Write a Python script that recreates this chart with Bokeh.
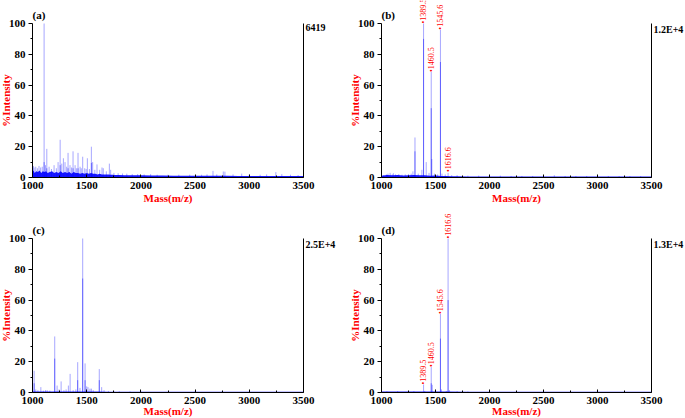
from math import pi
from bokeh.plotting import figure
from bokeh.layouts import column, row
from bokeh.models import Label, LinearAxis, FixedTicker, Range1d
from bokeh.embed import file_html
from bokeh.resources import INLINE

# ---------------- data ----------------
x_ticks = [1000, 1500, 2000, 2500, 3000, 3500]
x_tick_labels = ["1000", "1500", "2000", "2500", "3000", "3500"]
x_minor = [1250, 1750, 2250, 2750, 3250]
y_ticks = [0, 20, 40, 60, 80, 100]
y_tick_labels = ["0", "20", "40", "60", "80", "100"]
y_minor = [10, 30, 50, 70, 90]
x_title = "Mass(m/z)"
y_title = "%Intensity"

# panel (a)
a_tag = "(a)"
a_scale = "6419"
a_mz = [1008, 1015, 1030, 1045, 1060, 1075, 1090, 1107, 1120, 1132, 1153, 1175, 1199, 1220,
        1236, 1255, 1270, 1285, 1300, 1315, 1328, 1346, 1360, 1374, 1393, 1405, 1420, 1439,
        1450, 1463, 1482, 1495, 1506, 1525, 1543, 1555, 1575, 1595, 1620, 1641, 1653, 1681,
        1709, 1721, 1751, 1790, 1830, 1870, 1920, 1970, 2030, 2090, 2150, 2250, 2350, 2450,
        2560, 2610, 2665, 2700, 2760, 2775, 2850, 2930, 3000, 3100, 3160, 3245, 3300, 3380, 3450]
a_int = [7.5, 6.5, 7.0, 6.0, 7.5, 6.5, 7.0, 100, 8.0, 18.6, 7.0, 5.5, 8.0, 6.0,
         10.0, 24.5, 9.0, 12.5, 10.0, 7.0, 16.0, 8.0, 6.5, 17.0, 8.0, 6.0, 16.0, 7.0,
         6.0, 13.5, 6.0, 5.5, 12.5, 5.5, 20.0, 10.0, 5.0, 8.5, 5.0, 6.5, 6.0, 4.0,
         9.0, 5.0, 3.0, 2.8, 2.6, 2.5, 2.2, 2.2, 2.0, 2.2, 1.8, 1.8, 1.8, 1.8,
         1.8, 2.0, 4.3, 2.0, 3.9, 3.8, 2.0, 2.5, 2.0, 1.8, 2.0, 3.5, 2.2, 1.8, 1.6]
a_core_mz = [1107, 1132, 1255, 1328, 1374, 1420, 1543]
a_core = [10, 6, 8, 6, 6, 6, 9.5]
a_noise_mz = [1000, 1010, 1020, 1035, 1050, 1065, 1080, 1095, 1110, 1125, 1140, 1160, 1180,
              1200, 1220, 1240, 1260, 1280, 1300, 1320, 1340, 1360, 1380, 1400, 1420, 1440,
              1460, 1480, 1500, 1520, 1540, 1560, 1580, 1600, 1620, 1640, 1660, 1680, 1700,
              1720, 1740, 1760, 1800, 1850, 1900, 1950, 2000, 2100, 2200, 2300, 2400, 2500,
              2600, 2700, 2800, 2900, 3000, 3100, 3200, 3300, 3400, 3500]
a_noise = [3.5, 4.5, 3.0, 4.0, 3.5, 4.5, 3.0, 4.0, 3.5, 4.0, 3.0, 3.5, 4.0,
           3.0, 3.5, 3.0, 4.0, 3.0, 3.5, 3.0, 3.5, 2.5, 3.5, 3.0, 3.0, 2.5,
           3.0, 2.5, 3.0, 2.5, 3.0, 2.5, 2.5, 2.0, 2.5, 2.0, 2.0, 2.0, 2.0,
           1.8, 1.8, 1.6, 1.6, 1.5, 1.5, 1.4, 1.4, 1.3, 1.3, 1.2, 1.2, 1.2,
           1.1, 1.1, 1.1, 1.0, 1.0, 1.0, 1.0, 1.0, 0.9, 0.9]
a_lab_mz = []
a_lab_y = []
a_lab_text = []

# panel (b)
b_tag = "(b)"
b_scale = "1.2E+4"
b_mz = [1020, 1045, 1060, 1080, 1100, 1110, 1130, 1160, 1190, 1220, 1250, 1275, 1291, 1310,
        1340, 1374, 1389.5, 1414, 1440, 1460.5, 1466, 1490, 1520, 1545.6, 1560, 1590, 1616.6,
        1650, 1700, 1800, 1900, 2000, 2100, 2200, 2300, 2400, 2500, 2600, 2700, 2800, 2900,
        3000, 3100, 3200, 3300, 3400]
b_int = [1.5, 2.0, 2.5, 3.0, 2.0, 2.8, 2.0, 2.2, 1.8, 2.0, 2.2, 2.5, 4.0, 26.0,
         2.5, 5.0, 100, 10.0, 3.0, 68.5, 12.0, 2.5, 2.0, 96.0, 2.5, 2.0, 3.0,
         1.5, 1.5, 1.2, 1.2, 1.2, 1.2, 1.0, 1.0, 1.0, 1.0, 1.5, 1.0, 1.0, 1.0,
         1.0, 1.0, 0.9, 0.9, 0.9]
b_core_mz = [1310, 1389.5, 1460.5, 1545.6]
b_core = [17, 90, 45, 75]
b_noise_mz = [1000, 1050, 1100, 1150, 1200, 1250, 1300, 1350, 1400, 1450, 1500, 1550, 1600,
              1650, 1700, 1800, 2000, 2500, 3000, 3500]
b_noise = [1.2, 1.6, 1.4, 1.6, 1.3, 1.5, 1.6, 1.4, 1.5, 1.2, 1.3, 1.0, 0.9,
           0.8, 0.8, 0.7, 0.7, 0.6, 0.6, 0.6]
b_lab_mz = [1389.5, 1460.5, 1545.6, 1616.6]
b_lab_y = [100, 68.5, 96.0, 3.5]
b_lab_text = ["1389.5", "1460.5", "1545.6", "1616.6"]

# panel (c)
c_tag = "(c)"
c_scale = "2.5E+4"
c_mz = [1015, 1030, 1050, 1077, 1100, 1120, 1135, 1160, 1205, 1227, 1245, 1264, 1290, 1310,
        1331, 1347, 1375, 1400, 1417, 1438, 1463, 1485, 1500, 1512, 1530, 1543, 1560, 1616,
        1638, 1660, 1700, 1750, 1800, 1900, 2000, 2500, 2750, 3000]
c_int = [14.1, 2.0, 1.5, 3.5, 1.2, 1.5, 1.5, 1.2, 36.4, 4.5, 2.0, 7.2, 1.5, 2.0,
         4.5, 12.1, 1.5, 2.0, 19.7, 3.0, 100, 18.9, 4.0, 3.5, 2.5, 2.5, 1.5, 15.2,
         3.5, 1.5, 1.0, 0.8, 0.8, 0.7, 0.7, 0.7, 0.8, 0.6]
c_core_mz = [1015, 1205, 1417, 1463, 1485, 1616]
c_core = [6, 22, 8, 74, 8, 8]
c_noise_mz = [1000, 1100, 1200, 1300, 1400, 1500, 1600, 1700, 2000, 2500, 3000, 3500]
c_noise = [0.6, 0.6, 0.6, 0.7, 0.7, 0.7, 0.6, 0.5, 0.5, 0.5, 0.5, 0.5]
c_lab_mz = []
c_lab_y = []
c_lab_text = []

# panel (d)
d_tag = "(d)"
d_scale = "1.3E+4"
d_mz = [1050, 1150, 1250, 1300, 1389.5, 1400, 1460.5, 1470, 1500, 1545.6, 1555, 1600,
        1616.6, 1630, 1700, 1800, 2000, 2500, 3000]
d_int = [0.8, 0.9, 0.8, 0.9, 5.2, 1.0, 16.5, 5.0, 1.0, 51.0, 2.0, 1.0,
         100, 1.5, 0.8, 0.7, 0.7, 0.6, 0.6]
d_core_mz = [1460.5, 1545.6, 1616.6]
d_core = [6, 35, 60]
d_noise_mz = [1000, 1200, 1400, 1600, 1800, 2000, 2500, 3000, 3500]
d_noise = [0.6, 0.6, 0.6, 0.6, 0.5, 0.5, 0.5, 0.5, 0.5]
d_lab_mz = [1389.5, 1460.5, 1545.6, 1616.6]
d_lab_y = [5.2, 16.5, 51.0, 100]
d_lab_text = ["1389.5", "1460.5", "1545.6", "1616.6"]

# ---------------- style ----------------
SERIF = "Liberation Serif"
BLUE = "#0000ff"
RED = "#ff0000"
X_LO, X_HI = x_ticks[0], x_ticks[-1]
Y_LO, Y_HI = y_ticks[0], y_ticks[-1]


def build(tag, scale_text, mz, inten, core_mz, core, nz_mz, nz, lab_mz, lab_y, lab_text,
          cw, ch, fx0, fx1, fy0, fy1, title_off):
    # pixel geometry of the axes box inside the canvas -> ranges that cover the whole canvas
    xs = (X_HI - X_LO) / (fx1 - fx0)
    ys = (Y_HI - Y_LO) / (fy1 - fy0)
    xr = Range1d(X_LO - fx0 * xs, X_HI + (cw - fx1) * xs)
    yr = Range1d(Y_LO - (ch - fy1) * ys, Y_HI + fy0 * ys)

    p = figure(width=cw, height=ch, x_range=xr, y_range=yr, title=None,
               output_backend="svg", toolbar_location=None,
               min_border_left=0, min_border_right=0,
               min_border_top=0, min_border_bottom=0)
    p.xgrid.visible = False
    p.ygrid.visible = False
    p.outline_line_color = None
    p.background_fill_color = "white"
    p.border_fill_color = "white"

    p.varea(x=nz_mz, y1=[0] * len(nz), y2=nz, fill_color=BLUE, fill_alpha=0.9)
    p.segment(x0=mz, y0=[0] * len(mz), x1=mz, y1=inten,
              line_color=BLUE, line_alpha=0.35, line_width=1)
    p.segment(x0=core_mz, y0=[0] * len(core), x1=core_mz, y1=core,
              line_color=BLUE, line_alpha=0.45, line_width=1)

    xa = p.xaxis[0]
    xa.fixed_location = Y_LO
    xa.bounds = (X_LO, X_HI)
    xa.ticker = FixedTicker(ticks=x_ticks, minor_ticks=x_minor)
    xa.major_label_overrides = dict(zip(x_ticks, x_tick_labels))
    xa.major_tick_in = 3
    xa.major_tick_out = 0
    xa.minor_tick_in = 2
    xa.minor_tick_out = 0
    xa.major_label_standoff = 4

    ya = p.yaxis[0]
    ya.fixed_location = X_LO
    ya.bounds = (Y_LO, Y_HI)
    ya.ticker = FixedTicker(ticks=y_ticks, minor_ticks=y_minor)
    ya.major_label_overrides = dict(zip(y_ticks, y_tick_labels))
    ya.major_tick_in = 0
    ya.major_tick_out = 4
    ya.minor_tick_in = 0
    ya.minor_tick_out = 2
    ya.major_label_standoff = 3

    for ax in (xa, ya):
        ax.axis_line_color = "black"
        ax.major_tick_line_color = "black"
        ax.minor_tick_line_color = "black"
        ax.major_label_text_font = SERIF
        ax.major_label_text_font_style = "bold"
        ax.major_label_text_font_size = "11px"
        ax.major_label_text_color = "black"

    ra = LinearAxis(ticker=FixedTicker(ticks=[]), major_label_text_font_size="0px",
                    major_tick_line_color=None, minor_tick_line_color=None,
                    axis_line_color="black", fixed_location=X_HI, bounds=(Y_LO, Y_HI))
    p.add_layout(ra, "right")

    # axis titles
    p.add_layout(Label(x=(X_LO + X_HI) / 2, y=Y_LO, y_offset=title_off, text=x_title,
                       text_align="center", text_baseline="middle",
                       text_font=SERIF, text_font_style="bold",
                       text_font_size="11px", text_color=RED))
    p.add_layout(Label(x=X_LO, y=(Y_LO + Y_HI) / 2, x_offset=-27, text=y_title,
                       angle=pi / 2, text_align="center", text_baseline="middle",
                       text_font=SERIF, text_font_style="bold",
                       text_font_size="11px", text_color=RED))

    p.add_layout(Label(x=X_HI, y=Y_HI, x_offset=2, y_offset=0, text=scale_text,
                       text_baseline="top", text_align="left",
                       text_font=SERIF, text_font_style="bold",
                       text_font_size="10px", text_color="black"))
    p.add_layout(Label(x=X_LO, y=Y_HI, x_offset=0, y_offset=3, text=tag,
                       text_baseline="bottom", text_align="left",
                       text_font=SERIF, text_font_style="bold",
                       text_font_size="11px", text_color="black"))
    for lx, ly, lt in zip(lab_mz, lab_y, lab_text):
        p.add_layout(Label(x=lx, y=ly, text="\u2022" + lt, angle=pi / 2,
                           text_align="left", text_baseline="middle",
                           text_font=SERIF, text_font_size="8px", text_color=RED))
    return p


pa = build(a_tag, a_scale, a_mz, a_int, a_core_mz, a_core, a_noise_mz, a_noise,
           a_lab_mz, a_lab_y, a_lab_text, 340, 208, 32, 303, 23, 177, -20)
pb = build(b_tag, b_scale, b_mz, b_int, b_core_mz, b_core, b_noise_mz, b_noise,
           b_lab_mz, b_lab_y, b_lab_text, 344, 208, 41, 311, 23, 177, -20)
pc = build(c_tag, c_scale, c_mz, c_int, c_core_mz, c_core, c_noise_mz, c_noise,
           c_lab_mz, c_lab_y, c_lab_text, 340, 209, 32, 303, 30, 184, -18)
pd_ = build(d_tag, d_scale, d_mz, d_int, d_core_mz, d_core, d_noise_mz, d_noise,
            d_lab_mz, d_lab_y, d_lab_text, 344, 209, 41, 311, 30, 184, -18)

layout = column(row(pa, pb), row(pc, pd_))

with open("out.html", "w") as f:
    f.write(file_html(layout, INLINE))
